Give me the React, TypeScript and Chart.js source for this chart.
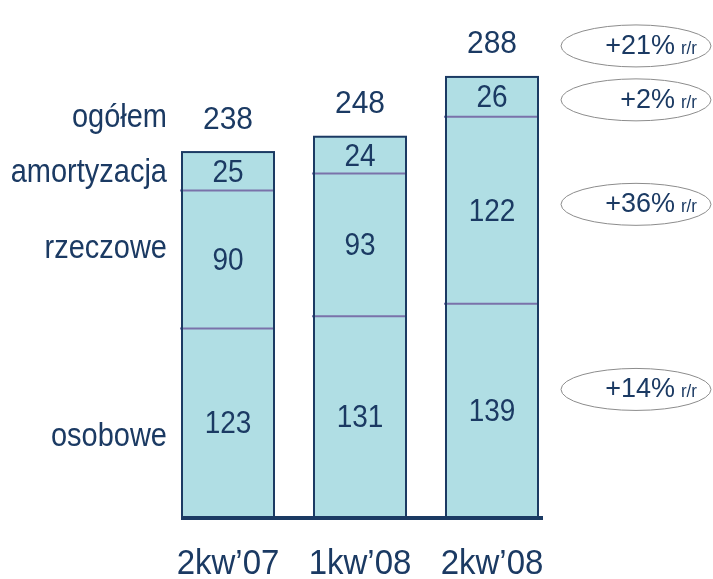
import { useEffect, useRef } from "react";
import { Chart, registerables } from "chart.js";

Chart.register(...registerables);

const categories = ["2kw’07", "1kw’08", "2kw’08"];
const osobowe = [123, 131, 139];
const rzeczowe = [90, 93, 122];
const amortyzacja = [25, 24, 26];
const totals = [238, 248, 288];
const seriesLabels = ["osobowe", "rzeczowe", "amortyzacja"];
const totalLabel = "ogółem";
// year-over-year changes for the last quarter: osobowe, rzeczowe, amortyzacja, ogółem
const yoyChanges = ["+14%", "+36%", "+2%", "+21%"];
const yoySuffix = "r/r";

const FONT = "'Liberation Sans', Arial, sans-serif";
const NAVY = "#1b3a63";
const FILL = "#b0dee4";
const DIVIDER = "#7a72aa";

function drawText(ctx: CanvasRenderingContext2D, text: string, x: number, y: number, sy: number) {
  ctx.save();
  ctx.translate(x, y);
  ctx.scale(1, sy);
  ctx.fillText(text, 0, 0);
  ctx.restore();
}

const overlayPlugin = {
  id: "overlay",
  afterDatasetsDraw(chart: any) {
    const ctx = chart.ctx as CanvasRenderingContext2D;
    const metas = [0, 1, 2].map((i) => chart.getDatasetMeta(i));
    const values = [osobowe, rzeczowe, amortyzacja];
    const n = categories.length;
    ctx.save();
    let firstLeft = 0;
    let lastRight = 0;
    let baseY = 0;
    const totalYs: number[] = [];
    const mids: number[][] = [];
    for (let i = 0; i < n; i++) {
      const els = metas.map((m: any) => m.data[i]);
      const x = els[0].x;
      const w = els[0].width;
      const left = x - w / 2;
      const right = x + w / 2;
      const base = els[0].base;
      const top = els[2].y;
      if (i === 0) firstLeft = left;
      if (i === n - 1) lastRight = right;
      baseY = base;
      // dividers
      ctx.strokeStyle = DIVIDER;
      ctx.lineWidth = 2;
      for (let k = 0; k < 2; k++) {
        const y = els[k].y;
        ctx.beginPath();
        ctx.moveTo(left - 2, y);
        ctx.lineTo(right + 1, y);
        ctx.stroke();
      }
      // outer frame
      ctx.strokeStyle = NAVY;
      ctx.lineWidth = 2;
      ctx.strokeRect(left, top, w, base - top);
      // segment values
      ctx.fillStyle = NAVY;
      ctx.textAlign = "center";
      ctx.textBaseline = "middle";
      ctx.font = `28px ${FONT}`;
      const m: number[] = [];
      for (let k = 0; k < 3; k++) {
        const mid = (els[k].y + els[k].base) / 2;
        m.push(mid);
        drawText(ctx, String(values[k][i]), x, mid + 2, 1.1);
      }
      mids.push(m);
      // totals
      ctx.font = `30px ${FONT}`;
      const ty = top - 32;
      totalYs.push(ty);
      drawText(ctx, String(totals[i]), x, ty, 1.03);
    }
    // baseline
    ctx.strokeStyle = NAVY;
    ctx.lineWidth = 4;
    ctx.beginPath();
    ctx.moveTo(firstLeft - 1, baseY + 1);
    ctx.lineTo(lastRight + 5, baseY + 1);
    ctx.stroke();

    // category labels, positioned through the x scale
    const xs = chart.scales.x;
    ctx.fillStyle = NAVY;
    ctx.textAlign = "center";
    ctx.textBaseline = "middle";
    ctx.font = `33px ${FONT}`;
    categories.forEach((c, i) => {
      drawText(ctx, c, xs.getPixelForValue(i), baseY + 47, 1.06);
    });

    // left labels
    ctx.textAlign = "right";
    ctx.font = `29px ${FONT}`;
    const lx = firstLeft - 15;
    drawText(ctx, seriesLabels[0], lx, mids[0][0] + 14, 1.12);
    drawText(ctx, seriesLabels[1], lx, mids[0][1] - 10, 1.12);
    drawText(ctx, seriesLabels[2], lx, mids[0][2] + 2, 1.12);
    drawText(ctx, totalLabel, lx, totalYs[0] - 2, 1.12);

    // ellipses with y/y changes
    const cx = chart.chartArea.right + 78;
    const ys = [mids[n - 1][0] - 21, mids[n - 1][1] - 6, mids[n - 1][2] + 3, totalYs[n - 1] + 1];
    for (let k = 0; k < 4; k++) {
      const cy = ys[k];
      ctx.strokeStyle = "#8c8c8c";
      ctx.lineWidth = 1;
      ctx.beginPath();
      ctx.ellipse(cx, cy, 75, 21, 0, 0, Math.PI * 2);
      ctx.stroke();
      ctx.fillStyle = NAVY;
      ctx.textAlign = "right";
      ctx.textBaseline = "middle";
      ctx.font = `17px ${FONT}`;
      const rx = cx + 61;
      drawText(ctx, yoySuffix, rx, cy + 3, 1.05);
      const sw = ctx.measureText(yoySuffix).width;
      ctx.font = `27px ${FONT}`;
      drawText(ctx, yoyChanges[k], rx - sw - 6, cy, 1.03);
    }
    ctx.restore();
  },
};

export default function App() {
  const ref = useRef<HTMLCanvasElement | null>(null);
  useEffect(() => {
    if (!ref.current) return;
    const chart = new Chart(ref.current, {
      type: "bar",
      data: {
        labels: categories,
        datasets: [
          { label: seriesLabels[0], data: osobowe, backgroundColor: FILL, borderWidth: 0 },
          { label: seriesLabels[1], data: rzeczowe, backgroundColor: FILL, borderWidth: 0 },
          { label: seriesLabels[2], data: amortyzacja, backgroundColor: FILL, borderWidth: 0 },
        ],
      },
      options: {
        responsive: false,
        animation: false,
        layout: { padding: { left: 162, right: 155, top: 57, bottom: 62 } },
        plugins: { legend: { display: false }, tooltip: { enabled: false } },
        datasets: { bar: { barPercentage: 0.697, categoryPercentage: 1 } },
        scales: {
          x: {
            stacked: true,
            display: false,
          },
          y: {
            stacked: true,
            display: false,
            min: 0,
            max: 300,
          },
        },
      },
      plugins: [overlayPlugin],
    });
    return () => chart.destroy();
  }, []);
  return (
    <div style={{ position: "absolute", left: 0, top: 0, width: 713, height: 579 }}>
      <canvas ref={ref} width={713} height={579} />
    </div>
  );
}
